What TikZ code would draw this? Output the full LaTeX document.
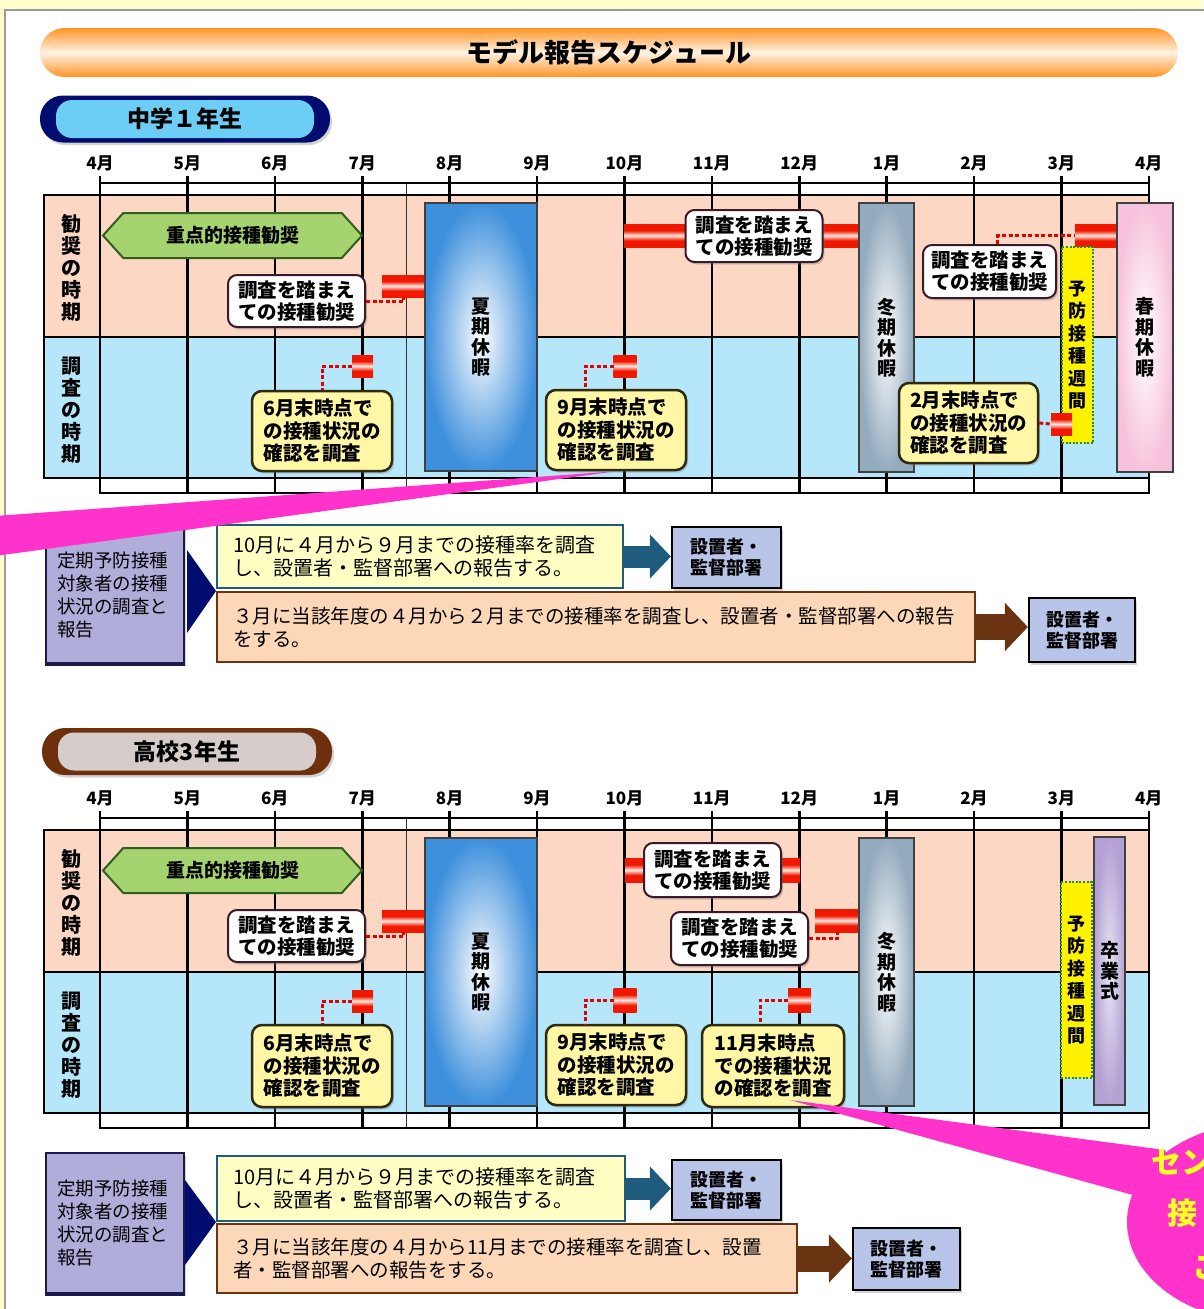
\documentclass[tikz,border=0pt]{standalone}
\usepackage{fontspec}
\setmainfont{Noto Sans CJK JP}
\usetikzlibrary{shapes.symbols,shadows,arrows.meta,calc}
\definecolor{bgyellow}{HTML}{FFFFCC}
\definecolor{panelgray}{HTML}{9A9A9A}
\definecolor{torange}{HTML}{FF9526}
\definecolor{navyc}{HTML}{000C6E}
\definecolor{lblue}{HTML}{6CCDF5}
\definecolor{hbrown}{HTML}{6E2F0C}
\definecolor{hgray}{HTML}{D6CDCA}
\definecolor{pinkrow}{HTML}{FCD8C4}
\definecolor{bluerow}{HTML}{B6E6FA}
\definecolor{summerblue}{HTML}{3E90DC}
\definecolor{wintergray}{HTML}{94ABBE}
\definecolor{springpink}{HTML}{F7C3DC}
\definecolor{sotsu}{HTML}{B3A1D3}
\definecolor{hexgreen}{HTML}{A5D36F}
\definecolor{hexdark}{HTML}{2F5E1E}
\definecolor{yfill}{HTML}{FFF7A6}
\definecolor{ydraw}{HTML}{2E2A10}
\definecolor{wdraw}{HTML}{3A1A2A}
\definecolor{barred}{HTML}{F01800}
\definecolor{barlight}{HTML}{FFE8E0}
\definecolor{weekyellow}{HTML}{FFF200}
\definecolor{weekgreen}{HTML}{2B8A2B}
\definecolor{ppfill}{HTML}{B1ADDB}
\definecolor{ppdark}{HTML}{1B1A4A}
\definecolor{ryellow}{HTML}{FFFFC4}
\definecolor{rteal}{HTML}{1E5B7C}
\definecolor{rpeach}{HTML}{FDD8B8}
\definecolor{rbrown}{HTML}{6A3312}
\definecolor{destc}{HTML}{B8C4E8}
\definecolor{callout}{HTML}{FF33CC}
\definecolor{callouttext}{HTML}{FFFF22}

\pgfdeclareverticalshading{redbarshade}{100bp}{color(0bp)=(barred); color(25bp)=(barred); color(39bp)=(barred); color(50bp)=(barlight); color(61bp)=(barred); color(75bp)=(barred); color(100bp)=(barred)}

\newcommand{\schedgrid}[2]{%
\begin{scope}[yshift=-#1pt]
\fill[pinkrow] (44,195) rectangle (1149,337);
\fill[bluerow] (44,337) rectangle (1149,478);
\fill[white] (100,183) rectangle (1149,195);
\fill[white] (100,478) rectangle (1149,493);
\foreach \i in {0,...,12}{\draw[gridline] ({100+87.4*\i},177) -- ({100+87.4*\i},493);}
\draw[thinline] (406.5,183) -- (406.5,493);
\draw[gridline] (100,183) -- (1149,183) (44,195) -- (1149,195) (44,337) -- (1149,337)
  (44,478) -- (1149,478) (100,493) -- (1149,493) (44,195) -- (44,478);
\foreach \i/\lab in {0/4,1/5,2/6,3/7,4/8,5/9,6/10,7/11,8/12,9/1,10/2,11/3,12/4}{
  \node[month] (mon#2-\i) at ({100+87.4*\i},163) {\lab 月};}
\node[vlabel] (lab#2a) at (71,268) {勧\\奨\\の\\時\\期};
\node[vlabel] (lab#2b) at (71,410) {調\\査\\の\\時\\期};
\end{scope}}

\begin{document}
\begin{tikzpicture}[x=1pt,y=-1pt,
 gridline/.style={line width=2.6pt, black, line cap=rect},
 thinline/.style={line width=1.4pt, black!80},
 month/.style={font=\bfseries\fontsize{17}{17}\selectfont, inner sep=0pt},
 vlabel/.style={font=\bfseries\fontsize{20}{22}\selectfont, align=center, inner sep=0pt},
 hexa/.style={signal, signal to=west and east, signal pointer angle=96, fill=hexgreen, draw=hexdark, line width=2pt, minimum width=259pt, minimum height=45pt, inner sep=0pt, font=\bfseries\fontsize{19}{19}\selectfont},
 shad/.style={drop shadow={opacity=0.35, shadow xshift=2pt, shadow yshift=-2.5pt}},
 wbox/.style={shad, rectangle, rounded corners=9pt, fill=white, draw=wdraw, line width=2pt, align=left, font=\bfseries\fontsize{19.5}{22}\selectfont, inner sep=0pt, minimum width=137pt, minimum height=52pt},
 ybox/.style={shad, rectangle, rounded corners=10pt, fill=yfill, draw=ydraw, line width=2.5pt, align=left, font=\bfseries\fontsize{19.5}{22.5}\selectfont, inner sep=0pt, minimum width=140pt, minimum height=80pt},
 redbar/.style={rectangle, inner sep=0pt, outer sep=0pt, shading=redbarshade},
 dotl/.style={draw=red!90!black, line width=3pt, dash pattern=on 4pt off 2.5pt},
 vac/.style={rectangle, draw=black!75, line width=2pt, inner sep=0pt, align=center, font=\bfseries\fontsize{19}{20.5}\selectfont},
 week/.style={rectangle, fill=weekyellow, draw=weekgreen, line width=2.5pt, dash pattern=on 2pt off 1.6pt, inner sep=0pt, align=center, minimum width=31pt, minimum height=196pt, font=\bfseries\fontsize{18}{22.5}\selectfont},
 ppbox/.style={shad, rectangle, fill=ppfill, draw=ppdark, line width=1.5pt, inner xsep=11pt, inner ysep=0pt, text width=116pt, align=left, minimum width=138pt, font=\fontsize{18.5}{23}\selectfont},
 rybox/.style={rectangle, fill=ryellow, draw=rteal, line width=2pt, inner xsep=16pt, inner ysep=0pt, align=left, font=\fontsize{20}{22.5}\selectfont},
 rpbox/.style={rectangle, fill=rpeach, draw=rbrown, line width=2pt, inner xsep=16pt, inner ysep=0pt, align=left, font=\fontsize{19.5}{23}\selectfont},
 destbox/.style={shad, rectangle, fill=destc, draw=black, line width=2.2pt, inner sep=0pt, align=left, minimum width=109pt, minimum height=61pt, font=\bfseries\fontsize{18}{21}\selectfont},
 tealarrow/.style={draw=rteal, line width=22pt, -{Triangle[length=21pt,width=43pt]}},
 brownarrow/.style={draw=rbrown, line width=26pt, -{Triangle[length=23pt,width=47pt]}},
 pill/.style={shad, rectangle, rounded corners=23pt, inner sep=0pt, minimum width=290pt, minimum height=47pt},
 pillin/.style={rectangle, rounded corners=16pt, inner sep=0pt, minimum width=258pt, minimum height=38pt, font=\bfseries\fontsize{23}{23}\selectfont}
]
\useasboundingbox (0,0) rectangle (1203,1309);
\fill[bgyellow] (0,0) rectangle (1203,1309);
\filldraw[fill=white, draw=panelgray, line width=1.5pt] (5,10) rectangle (1220,1330);

% title
\node[rectangle, rounded corners=24.5pt, minimum width=1138pt, minimum height=49pt, inner sep=0pt,
  top color=torange, bottom color=torange, middle color=white!88!torange,
  font=\bfseries\fontsize{26}{26}\selectfont] (title) at (609,52.5) {モデル報告スケジュール};

% headers
\node[pill, fill=navyc] (hd1) at (185,119) {};
\node[pillin, fill=lblue] (hd1t) at (185,119) {中学１年生};
\node[pill, fill=hbrown] (hd2) at (187,751.5) {};
\node[pillin, fill=hgray] (hd2t) at (187,751.5) {高校3年生};

% ================= section 1 =================
\schedgrid{0}{a}
\node[hexa] (g1) at (232.5,235.5) {重点的接種勧奨};
\node[wbox] (w1) at (296.5,301) {調査を踏まえ\\ての接種勧奨};
\node[redbar, minimum width=43pt, minimum height=22pt] (b1) at (403.5,286) {};
\draw[dotl] (w1.east) -| (b1.south);
\node[vac, inner color=white, outer color=summerblue, minimum width=112pt, minimum height=268pt] (s1) at (481,337) {夏\\期\\休\\暇};
\node[redbar, minimum width=21pt, minimum height=22pt] (b2) at (362.5,366) {};
\node[ybox] (y1) at (322,431) {6月末時点で\\の接種状況の\\確認を調査};
\draw[dotl] (b2.west) -| (y1.north);
\node[redbar, minimum width=62pt, minimum height=23pt] (b3) at (655,235.5) {};
\node[redbar, minimum width=37pt, minimum height=23pt] (b4) at (840.5,235.5) {};
\node[wbox] (w2) at (754,236) {調査を踏まえ\\ての接種勧奨};
\node[vac, inner color=white, outer color=wintergray, minimum width=55pt, minimum height=269pt] (wt1) at (886.5,337.5) {冬\\期\\休\\暇};
\node[wbox, minimum width=133pt, minimum height=53pt] (w3) at (989.5,271.5) {調査を踏まえ\\ての接種勧奨};
\node[redbar, minimum width=42pt, minimum height=23pt] (b5) at (1096,235.5) {};
\draw[dotl] ([xshift=8pt]w3.north) |- (b5.west);
\node[week] (k1) at (1077.5,345) {予\\防\\接\\種\\週\\間};
\node[vac, inner color=white, outer color=springpink, minimum width=56pt, minimum height=269pt] (sp1) at (1145,337.5) {春\\期\\休\\暇};
\node[redbar, minimum width=23pt, minimum height=22pt] (b6) at (625,366) {};
\node[ybox] (y2) at (616,430) {9月末時点で\\の接種状況の\\確認を調査};
\draw[dotl] (b6.west) -| ([xshift=-31pt]y2.north);
\node[ybox, minimum width=139pt] (y3) at (968.5,423) {2月末時点で\\の接種状況の\\確認を調査};
\node[redbar, minimum width=21pt, minimum height=22pt] (b7) at (1061.5,424) {};
\draw[dotl] (y3.east) -- (b7.west);

% report 1
\node[ppbox, minimum height=136pt] (pp1) at (115,595) {定期予防接種\\対象者の接種\\状況の調査と\\報告};
\draw[ppdark, line width=4pt] (pp1.south west) -- (pp1.south east);
\fill[navyc] (187,550) -- (216,591) -- (187,633) -- cycle;
\node[rybox, minimum width=406pt, text width=374pt, minimum height=63pt] (yb1) at (420,556.5) {10月に４月から９月までの接種率を調査\\し、設置者・監督部署への報告する。};
\node[destbox] (d1) at (726.5,557.5) {設置者・\\監督部署};
\draw[tealarrow] (yb1.east) -- (yb1.east -| d1.west);
\node[rpbox, minimum width=758pt, text width=726pt, minimum height=70pt] (pb1) at (596,627) {３月に当該年度の４月から２月までの接種率を調査し、設置者・監督部署への報告\\をする。};
\node[destbox, minimum width=106pt, minimum height=64pt] (d2) at (1082,630) {設置者・\\監督部署};
\draw[brownarrow] (pb1.east) -- (pb1.east -| d2.west);

% ================= section 2 =================
\schedgrid{635}{b}
\node[hexa] (g2) at (232.5,870.5) {重点的接種勧奨};
\node[wbox] (w4) at (296.5,936) {調査を踏まえ\\ての接種勧奨};
\node[redbar, minimum width=43pt, minimum height=22pt] (b8) at (403.5,921) {};
\draw[dotl] (w4.east) -| (b8.south);
\node[vac, inner color=white, outer color=summerblue, minimum width=112pt, minimum height=268pt] (s2) at (481,972) {夏\\期\\休\\暇};
\node[redbar, minimum width=21pt, minimum height=22pt] (b9) at (362.5,1001) {};
\node[ybox, minimum height=82pt] (y4) at (322,1066) {6月末時点で\\の接種状況の\\確認を調査};
\draw[dotl] (b9.west) -| (y4.north);
\node[redbar, minimum width=23pt, minimum height=24pt] (b10) at (625,1000) {};
\node[ybox] (y5) at (616,1065) {9月末時点で\\の接種状況の\\確認を調査};
\draw[dotl] (b10.west) -| ([xshift=-31pt]y5.north);
\node[redbar, minimum width=20pt, minimum height=24pt] (b11) at (635,870) {};
\node[redbar, minimum width=19pt, minimum height=24pt] (b12) at (790.5,870) {};
\node[wbox, minimum height=54pt] (w5) at (712.5,870) {調査を踏まえ\\ての接種勧奨};
\node[redbar, minimum width=45pt, minimum height=23pt] (b13) at (837.5,920.5) {};
\node[wbox, minimum height=53pt] (w6) at (739.5,938.5) {調査を踏まえ\\ての接種勧奨};
\draw[dotl] (w6.east) -| (b13.south);
\node[vac, inner color=white, outer color=wintergray, minimum width=55pt, minimum height=268pt] (wt2) at (886.5,972) {冬\\期\\休\\暇};
\node[redbar, minimum width=23pt, minimum height=24pt] (b14) at (799.5,1000) {};
\node[ybox, minimum width=142pt, minimum height=82pt] (y6) at (773,1066) {11月末時点\\での接種状況\\の確認を調査};
\draw[dotl] (b14.west) -| ([xshift=-13pt]y6.north);
\node[week] (k2) at (1076.5,980) {予\\防\\接\\種\\週\\間};
\node[vac, inner color=sotsu!30!white, outer color=sotsu, minimum width=31pt, minimum height=268pt] (gr2) at (1109.5,971) {卒\\業\\式};

% report 2
\node[ppbox, minimum height=140pt] (pp2) at (115,1223) {定期予防接種\\対象者の接種\\状況の調査と\\報告};
\draw[ppdark, line width=4pt] (pp2.south west) -- (pp2.south east);
\fill[navyc] (185,1180) -- (216,1222) -- (185,1265) -- cycle;
\node[rybox, minimum width=408pt, text width=376pt, minimum height=65pt] (yb2) at (421,1188.5) {10月に４月から９月までの接種率を調査\\し、設置者・監督部署への報告する。};
\node[destbox, minimum height=60pt] (d3) at (726.5,1190) {設置者・\\監督部署};
\draw[tealarrow] (yb2.east) -- (yb2.east -| d3.west);
\node[rpbox, minimum width=580pt, text width=548pt, minimum height=69pt] (pb2) at (507,1258.5) {３月に当該年度の４月から11月までの接種率を調査し、設置\\者・監督部署への報告をする。};
\node[destbox, minimum width=107pt, minimum height=62pt] (d4) at (906.5,1259) {設置者・\\監督部署};
\draw[brownarrow] (pb2.east) -- (pb2.east -| d4.west);

% callouts
\fill[callout] (-5,516) -- (y2.south) -- (-5,556) -- cycle;
\fill[callout] (1265,1222) ellipse [x radius=138, y radius=100];
\fill[callout] (790,1100) -- (1165,1150) -- (1185,1200) -- (1133,1195) -- cycle;
\node[anchor=west, inner sep=0pt, text=callouttext, font=\bfseries\fontsize{30}{30}\selectfont] (c1) at (1151,1162) {セン};
\node[anchor=west, inner sep=0pt, text=callouttext, font=\bfseries\fontsize{30}{30}\selectfont] (c2) at (1167,1213) {接};
\node[anchor=west, inner sep=0pt, text=callouttext, font=\bfseries\fontsize{30}{30}\selectfont] (c3) at (1192,1268) {こ};
\end{tikzpicture}
\end{document}
